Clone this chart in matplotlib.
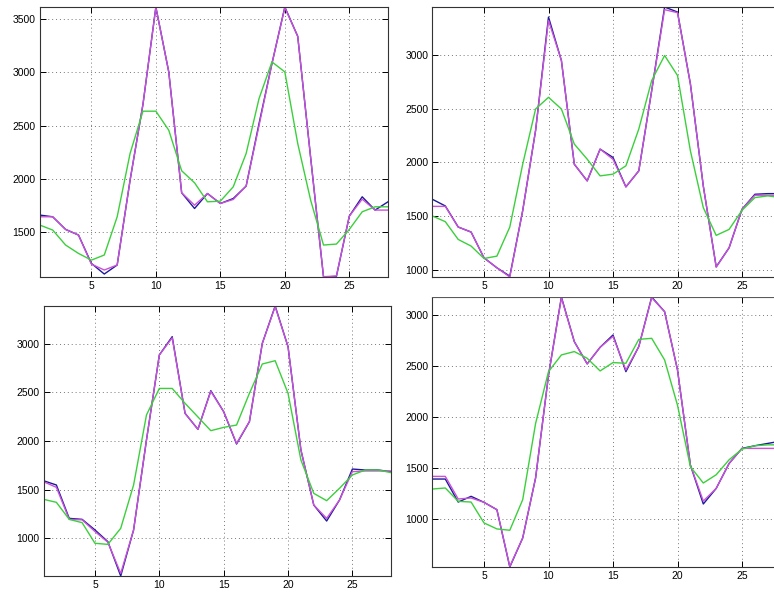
import numpy as np
import matplotlib.pyplot as plt
from matplotlib.patches import Rectangle

# frame index 1..28, four panels, three series each
t = np.arange(1, 29)

tl_blue = [1657, 1641, 1522, 1469, 1202, 1102, 1187, 1985, 2700, 3616, 3005, 1867, 1719, 1860,
           1766, 1813, 1930, 2519, 3083, 3616, 3340, 2200, 1074, 1080, 1647, 1829, 1704, 1782]
tl_mag = [1641, 1641, 1522, 1469, 1195, 1140, 1187, 1985, 2700, 3613, 3005, 1867, 1750, 1860,
          1766, 1804, 1930, 2500, 3083, 3610, 3340, 2200, 1077, 1083, 1647, 1807, 1704, 1704]
tl_green = [1563, 1516, 1375, 1296, 1233, 1281, 1641, 2237, 2635, 2635, 2456, 2074, 1961, 1782,
            1788, 1923, 2237, 2754, 3099, 3005, 2331, 1798, 1375, 1384, 1522, 1688, 1735, 1735]

tr_blue = [1656, 1594, 1397, 1350, 1109, 1016, 938, 1550, 2300, 3359, 2953, 1984, 1828, 2125,
           2047, 1772, 1922, 2672, 3453, 3406, 2734, 1780, 1025, 1203, 1563, 1703, 1709, 1709]
tr_mag = [1590, 1590, 1397, 1350, 1109, 1016, 930, 1550, 2300, 3328, 2953, 1984, 1828, 2125,
          2030, 1772, 1922, 2672, 3428, 3400, 2734, 1780, 1022, 1203, 1563, 1694, 1694, 1694]
tr_green = [1500, 1447, 1281, 1219, 1103, 1125, 1397, 1984, 2500, 2609, 2500, 2172, 2031, 1875,
            1891, 1969, 2313, 2766, 3000, 2813, 2109, 1578, 1319, 1375, 1553, 1672, 1688, 1672]

bl_blue = [1592, 1548, 1205, 1195, 1086, 966, 613, 1086, 2010, 2884, 3072, 2284, 2120, 2517,
           2301, 1969, 2199, 3003, 3387, 2969, 1908, 1342, 1178, 1394, 1712, 1702, 1702, 1685]
bl_mag = [1582, 1524, 1195, 1190, 1070, 960, 640, 1086, 2010, 2884, 3060, 2284, 2120, 2510,
          2301, 1975, 2199, 3003, 3380, 2969, 1908, 1342, 1205, 1394, 1685, 1692, 1692, 1692]
bl_green = [1401, 1370, 1195, 1161, 949, 938, 1103, 1548, 2267, 2540, 2540, 2387, 2247, 2106,
            2140, 2164, 2490, 2791, 2825, 2490, 1805, 1462, 1387, 1514, 1651, 1702, 1702, 1675]

br_blue = [1389, 1389, 1163, 1219, 1160, 1088, 525, 810, 1400, 2408, 3177, 2739, 2520, 2683,
           2804, 2444, 2690, 3177, 3033, 2461, 1526, 1144, 1297, 1542, 1690, 1716, 1739, 1761]
br_mag = [1415, 1415, 1193, 1203, 1160, 1088, 530, 810, 1400, 2408, 3170, 2739, 2520, 2683,
          2790, 2460, 2690, 3170, 3033, 2461, 1526, 1173, 1297, 1542, 1690, 1690, 1690, 1690]
br_green = [1291, 1301, 1170, 1163, 958, 899, 886, 1186, 1935, 2444, 2608, 2641, 2575, 2451,
            2533, 2526, 2761, 2771, 2559, 2114, 1510, 1350, 1431, 1578, 1683, 1716, 1725, 1725]

panels = [
    (tl_blue, tl_mag, tl_green, [39.8, 7, 388, 277]),
    (tr_blue, tr_mag, tr_green, [432.4, 7, 780.7, 277]),
    (bl_blue, bl_mag, bl_green, [43.5, 306, 391, 576]),
    (br_blue, br_mag, br_green, [432.4, 297, 780.7, 567]),
]

W, H = 774, 594
plt.rcParams['font.family'] = ['Liberation Sans', 'DejaVu Sans']
fig = plt.figure(figsize=(W / 100, H / 100), dpi=100)

for blue, mag, green, (x0, y0, x1, y1) in panels:
    ax = fig.add_axes([x0 / W, (H - y1) / H, (x1 - x0) / W, (y1 - y0) / H])
    ax.plot(t, blue, color='#1a1a9a', lw=1.0)
    ax.plot(t, mag, color='#cc50d8', lw=1.0)
    ax.plot(t, green, color='#3ccf3c', lw=1.0)
    allv = np.concatenate([blue, mag, green])
    ax.set_xlim(1, 28)
    ax.set_xticks([5, 10, 15, 20, 25])
    ax.set_yticks(np.arange(500, 4000, 500))
    ax.set_ylim(allv.min(), allv.max())
    ax.grid(True, linestyle=(0, (1, 3)), color='#777777', lw=0.7)
    ax.tick_params(direction='in', length=4, width=0.7, labelsize=7.5,
                   top=True, right=True, pad=3)
    for s in ax.spines.values():
        s.set_linewidth(0.8)
        s.set_color('#333333')

# the screenshots are cut off just above the bottom-right panel
fig.patches.append(Rectangle((420 / W, (H - 296) / H), 354 / W, 6 / H,
                             transform=fig.transFigure, color='white', zorder=10))

fig.savefig('out.png', dpi=100)
